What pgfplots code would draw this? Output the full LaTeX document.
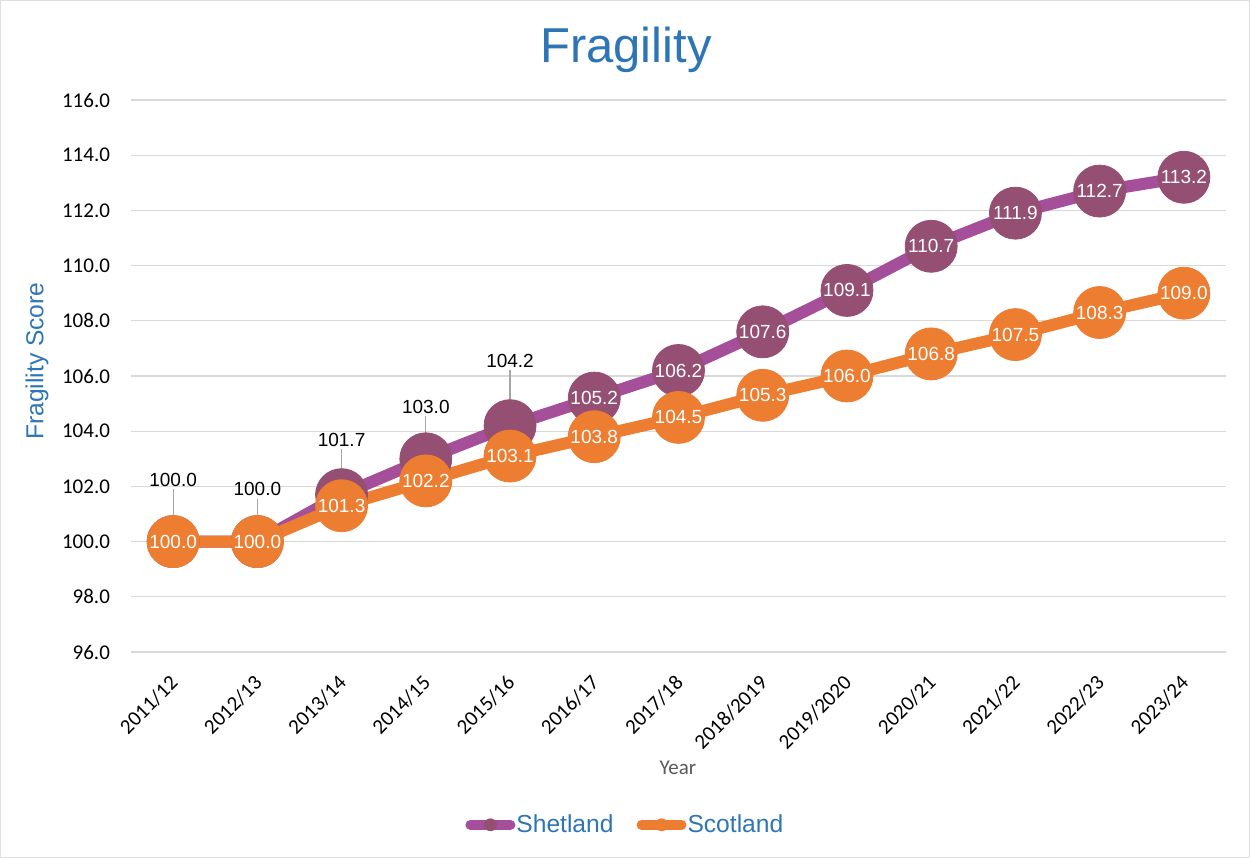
\documentclass[border=0pt]{standalone}
\usepackage{pgfplots}
\pgfplotsset{compat=1.18}
\usepackage{pgfplotstable}
\usepackage{fontspec}
\setmainfont{Liberation Sans}
\newfontfamily\calibri{Carlito}
\definecolor{shetline}{RGB}{165,78,154}
\definecolor{shetmark}{RGB}{149,79,114}
\definecolor{scot}{RGB}{237,125,49}
\definecolor{titleblue}{RGB}{46,117,182}
\definecolor{gridgray}{RGB}{217,217,217}
\definecolor{labelgray}{RGB}{89,89,89}
\definecolor{leadergray}{RGB}{166,166,166}

\pgfplotstableread{
x shet scot
0 100.0 100.0
1 100.0 100.0
2 101.7 101.3
3 103.0 102.2
4 104.2 103.1
5 105.2 103.8
6 106.2 104.5
7 107.6 105.3
8 109.1 106.0
9 110.7 106.8
10 111.9 107.5
11 112.7 108.3
12 113.2 109.0
}\data

% label positions for the Shetland labels set above the points, with leader length e
\pgfplotstableread{
x y e l
0 101.92 1.92 100.0
1 101.56 1.56 100.0
2 103.35 1.65 101.7
3 104.55 1.55 103.0
4 106.20 2.00 104.2
}\shetabove

\begin{document}
\begin{tikzpicture}
\begin{axis}[
  at={(65.5pt,103pt)}, anchor=south west,
  scale only axis, width=547.5pt, height=276pt,
  xmin=-0.5, xmax=12.5, ymin=96, ymax=116,
  ytick={96,98,...,116},
  xtick={0,...,12},
  xticklabels={2011/12,2012/13,2013/14,2014/15,2015/16,2016/17,2017/18,2018/2019,2019/2020,2020/21,2021/22,2022/23,2023/24},
  axis line style={draw=none},
  major tick length=0pt,
  ymajorgrids, grid style={gridgray, line width=0.6pt},
  clip=false,
  tick label style={font=\calibri\fontsize{10.5}{12}\selectfont, text=black},
  /pgf/number format/assume math mode=true,
  yticklabel style={/pgf/number format/fixed, /pgf/number format/fixed zerofill, /pgf/number format/precision=1, xshift=-7pt},
  xticklabel style={rotate=45, anchor=east, xshift=-5.9pt, yshift=-10.1pt},
  title={Fragility},
  title style={at={(axis description cs:0.452,1.069)}, anchor=center, font=\fontsize{24.5}{28}\selectfont, text=titleblue},
  ylabel={Fragility Score},
  ylabel style={at={(axis description cs:-0.0858,0.527)}, anchor=center, font=\fontsize{12.3}{14}\selectfont, text=titleblue},
  xlabel={Year},
  xlabel style={at={(axis description cs:0.4995,-0.210)}, anchor=center, font=\calibri\fontsize{10.5}{12}\selectfont, text=labelgray},
  legend style={at={(axis description cs:0.451,-0.313)}, anchor=center, draw=none, fill=none,
    legend columns=2, font=\fontsize{12.3}{14}\selectfont, text=titleblue,
    /tikz/every even column/.append style={column sep=11pt},
    nodes={inner sep=0.5pt}},
  legend cell align=left,
]
\addplot[color=shetline, line width=6pt, line join=round, mark=*, mark size=13pt,
  mark options={solid, fill=shetmark, draw=shetmark, line width=0.4pt},
  legend image code/.code={\draw[shetline, line width=5pt, line cap=round] (2.5pt,0pt) -- (22.5pt,0pt);
    \path[fill=shetmark, draw=none] (12.5pt,0pt) circle[radius=3.2pt];}]
  table[x=x,y=shet]{\data};
\addlegendentry{Shetland}
\addplot[color=scot, line width=6pt, line join=round, mark=*, mark size=13pt,
  mark options={solid, fill=scot, draw=scot, line width=0.4pt},
  legend image code/.code={\draw[scot, line width=5pt, line cap=round] (2.5pt,0pt) -- (22.5pt,0pt);
    \path[fill=scot, draw=none] (12.5pt,0pt) circle[radius=3.2pt];}]
  table[x=x,y=scot]{\data};
\addlegendentry{Scotland}
% white labels inside markers
\addplot[forget plot, draw=none, mark=none, point meta=y, restrict x to domain=5:12,
  nodes near coords={\pgfmathprintnumber[fixed,fixed zerofill,precision=1,assume math mode=true]{\pgfplotspointmeta}},
  nodes near coords style={anchor=center, text=white, inner sep=0pt, font=\fontsize{9.5}{11}\selectfont}]
  table[x=x,y=shet]{\data};
\addplot[forget plot, draw=none, mark=none, point meta=y,
  nodes near coords={\pgfmathprintnumber[fixed,fixed zerofill,precision=1,assume math mode=true]{\pgfplotspointmeta}},
  nodes near coords style={anchor=center, text=white, inner sep=0pt, font=\fontsize{9.5}{11}\selectfont}]
  table[x=x,y=scot]{\data};
% Shetland labels above with leader lines
\addplot[forget plot, draw=none, mark=none, point meta=explicit symbolic,
  nodes near coords,
  nodes near coords style={anchor=south, text=black, inner sep=1pt, font=\fontsize{9.5}{11}\selectfont},
  error bars/y dir=minus, error bars/y explicit, error bars/error mark=none,
  error bars/error bar style={draw=leadergray, line width=0.6pt, solid}]
  table[x=x, y=y, y error minus=e, meta=l]{\shetabove};
\end{axis}
\draw[gray!25, line width=0.5pt] (0.25pt,0.25pt) rectangle (624.75pt,428.75pt);
\pgfresetboundingbox
\useasboundingbox (0pt,0pt) rectangle (625pt,429pt);
\end{tikzpicture}
\end{document}
